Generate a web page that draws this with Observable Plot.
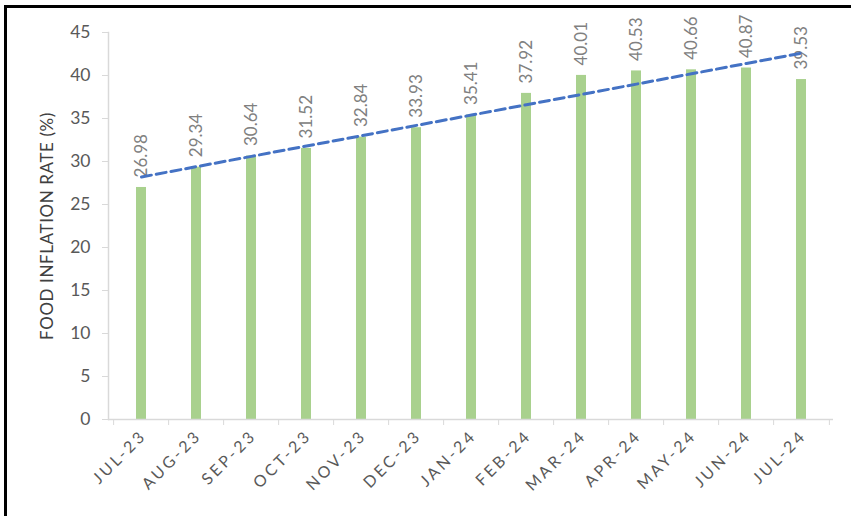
<!DOCTYPE html>
<html>
<head>
<meta charset="utf-8">
<script src="https://cdn.jsdelivr.net/npm/d3@7"></script>
<script src="https://cdn.jsdelivr.net/npm/@observablehq/plot@0.6"></script>
<style>
  html, body { margin: 0; padding: 0; background: #fff; }
  #wrap { position: relative; width: 851px; height: 516px; overflow: hidden; }
  #border { position: absolute; left: 4px; top: 5px; width: 900px; height: 600px;
            border-left: 3px solid #000; border-top: 3px solid #000; pointer-events: none; }
  svg { font-family: Lato, "Open Sans", sans-serif; }
</style>
</head>
<body>
<div id="wrap"><div id="border"></div></div>
<script>
const months = ["JUL-23","AUG-23","SEP-23","OCT-23","NOV-23","DEC-23","JAN-24","FEB-24","MAR-24","APR-24","MAY-24","JUN-24","JUL-24"];
const values = [26.98, 29.34, 30.64, 31.52, 32.84, 33.93, 35.41, 37.92, 40.01, 40.53, 40.66, 40.87, 39.53];
const yTicks = [0, 5, 10, 15, 20, 25, 30, 35, 40, 45];
const yTitle = "FOOD INFLATION RATE (%)";

const data = months.map((m, i) => ({month: m, value: values[i], i}));

// linear trend (least squares) computed from the data
const mx = d3.mean(data, d => d.i), my = d3.mean(values);
const slope = d3.sum(data, d => (d.i - mx) * (d.value - my)) / d3.sum(data, d => (d.i - mx) ** 2);
const trend = data.map(d => ({month: d.month, value: my + slope * (d.i - mx)}));

const W = 851, H = 516, ML = 108, MR = 18, MT = 32, MB = 97;
const step = (W - ML - MR) / months.length;
const axisGray = "#d9d9d9";

const chart = Plot.plot({
  width: W, height: H,
  marginLeft: ML, marginRight: MR, marginTop: MT, marginBottom: MB,
  x: {domain: months, paddingInner: 0.82, paddingOuter: 0.41, axis: null},
  y: {domain: [0, 45], axis: null},
  marks: [
    Plot.axisY({ticks: yTicks, tickSize: 6, tickPadding: 12, stroke: axisGray, fill: "#595959", fontSize: 17.5, label: null}),
    Plot.frame({anchor: "left", stroke: axisGray, strokeWidth: 1.5}),
    Plot.barY(data, {x: "month", y: "value", fill: "#a9d18e"}),
    Plot.ruleY([0], {stroke: axisGray, strokeWidth: 1.5}),
    Plot.axisX({tickSize: 6, tickFormat: () => "", stroke: axisGray, dx: -step / 2, label: null}),
    Plot.axisX([months[months.length - 1]], {tickSize: 6, tickFormat: () => "", stroke: axisGray, dx: step / 2, label: null}),
    Plot.text(months, {x: d => d, frameAnchor: "bottom", rotate: -45, textAnchor: "end", dy: 17, dx: 6, fontSize: 16, fill: "#595959"}),
    Plot.text(data, {x: "month", y: "value", text: d => d.value.toFixed(2), rotate: -90, textAnchor: "start", dy: -10, fontSize: 17, fill: "#808080"}),
    Plot.line(trend, {x: "month", y: "value", stroke: "#4472c4", strokeWidth: 3, strokeDasharray: "10,5"}),
    Plot.text([yTitle], {frameAnchor: "left", textAnchor: "middle", rotate: -90, dx: -61, fontSize: 17, fill: "#404040"})
  ]
});

const sel = d3.select(chart).selectAll("text");
sel.filter(function () { return /^[A-Z]{3}-\d\d$/.test(this.textContent); })
  .style("letter-spacing", "3px");
sel.filter(function () { return this.textContent === yTitle; })
  .style("letter-spacing", "0.6px");

document.getElementById("wrap").prepend(chart);
</script>
</body>
</html>
